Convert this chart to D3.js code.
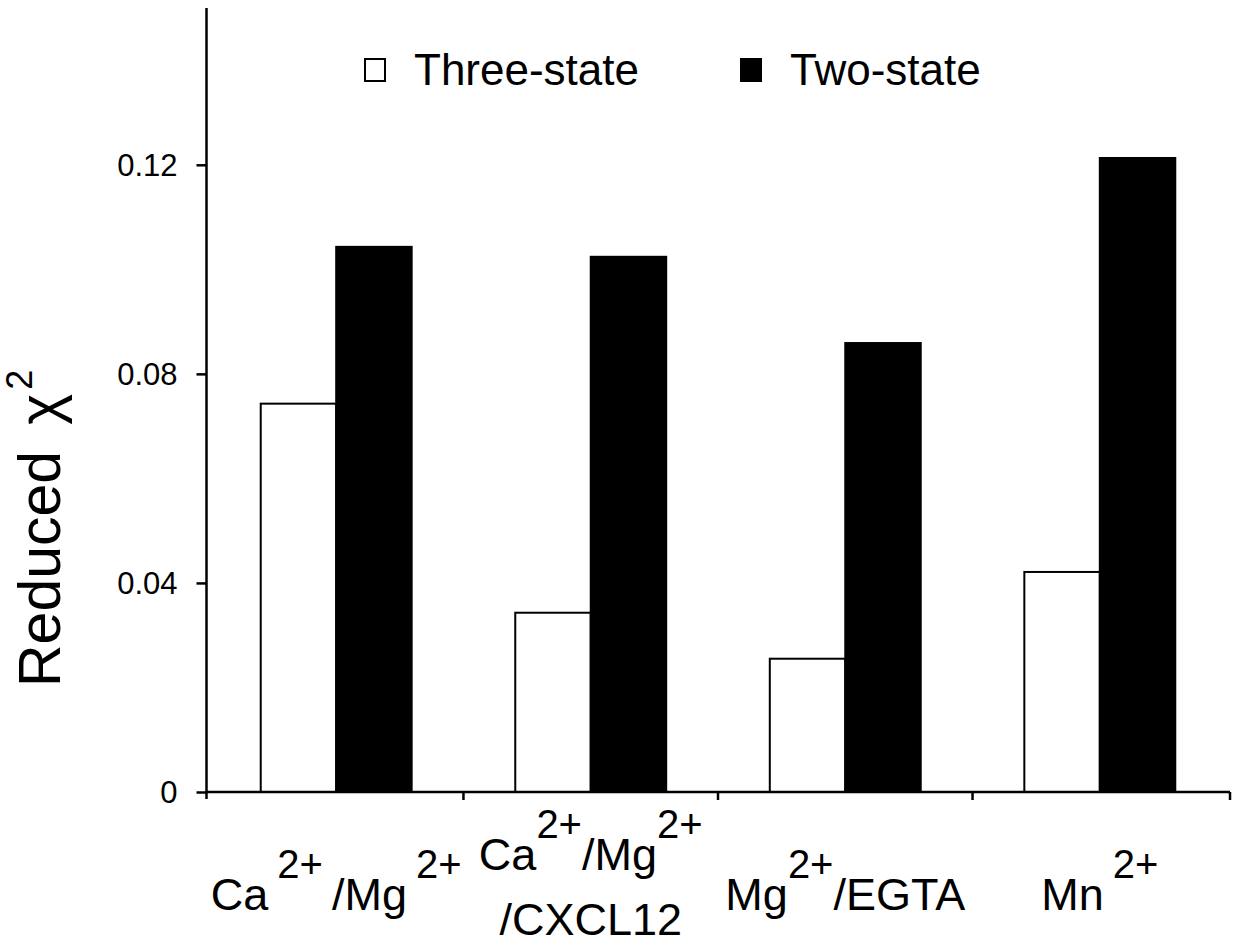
<!DOCTYPE html>
<html>
<head>
<meta charset="utf-8">
<script src="https://cdn.jsdelivr.net/npm/d3@7"></script>
<style>
  body { margin: 0; background: #fff; }
  text { font-family: Arial, "Liberation Sans", sans-serif; fill: #000; white-space: pre; }
</style>
</head>
<body>
<div class="main"></div>
<script>
// categories and series values
const categories = ["Ca/Mg", "Ca/Mg/CXCL12", "Mg/EGTA", "Mn"]
const categoryLines = [["Ca\u20092+\u2009/Mg\u20092+"], ["Ca2+/Mg2+", "/CXCL12"], ["Mg2+/EGTA"], ["Mn\u20092+"]]
const seriesNames = ["Three-state", "Two-state"]
const threeState = [0.0743, 0.0343, 0.0255, 0.0421]
const twoState = [0.1043, 0.1024, 0.0859, 0.1213]
const yTicks = [0, 0.04, 0.08, 0.12]
const yTickLabels = ["0", "0.04", "0.08", "0.12"]

const width = 1237
const height = 947
const margin = ({top: 6, right: 7, bottom: 156, left: 206})

const svg = d3.select(".main").append("svg")
    .attr("width", width)
    .attr("height", height)

const xScale = d3.scaleBand()
    .domain(categories)
    .range([margin.left, width - margin.right])
    .paddingInner(0.407)
    .paddingOuter(0.215)

const xInner = d3.scaleBand()
    .domain(seriesNames)
    .range([0, xScale.bandwidth()])

const yScale = d3.scaleLinear()
    .domain([0, 0.15])
    .range([height - margin.bottom + 1, margin.top + 2])

const fills = {"Three-state": "#fff", "Two-state": "#000"}

const rows = categories.map((c, i) => ({
    category: c,
    values: [
        {series: "Three-state", value: threeState[i]},
        {series: "Two-state", value: twoState[i]}
    ]
}))

// Bars
const groups = svg.append("g")
    .selectAll("g")
    .data(rows)
    .join("g")
        .attr("transform", d => `translate(${xScale(d.category)}, 0)`)

groups.selectAll("rect")
    .data(d => d.values)
    .join("rect")
        .attr("x", d => xInner(d.series))
        .attr("y", d => yScale(d.value))
        .attr("width", xInner.bandwidth())
        .attr("height", d => yScale(0) - yScale(d.value))
        .attr("fill", d => fills[d.series])
        .attr("stroke", "#000")
        .attr("stroke-width", 2)

// Y axis
const yAxis = d3.axisLeft(yScale)
    .tickValues(yTicks)
    .tickFormat((d, i) => yTickLabels[i])
    .tickSize(10)
    .tickPadding(19)

const yG = svg.append("g")
    .attr("transform", `translate(${margin.left + 0.5}, 0)`)
    .call(yAxis)
yG.select(".domain").remove()
yG.selectAll(".tick line").attr("stroke", "#000").attr("stroke-width", 2.5)
yG.selectAll(".tick text")
    .attr("font-size", 31)
    .attr("font-family", "Arial, 'Liberation Sans', sans-serif")
    .attr("dy", "0.34em")

svg.append("line")
    .attr("x1", margin.left + 0.5).attr("x2", margin.left + 0.5)
    .attr("y1", yScale.range()[1]).attr("y2", yScale(0) + 7)
    .attr("stroke", "#000")
    .attr("stroke-width", 2.5)

// X axis line and the ticks between groups
const x0 = xScale.range()[0]
const x1 = xScale.range()[1]
svg.append("line")
    .attr("x1", x0).attr("x2", x1)
    .attr("y1", yScale(0)).attr("y2", yScale(0))
    .attr("stroke", "#000")
    .attr("stroke-width", 2.5)

const gap = xScale.step() * xScale.paddingInner()
const tickXs = categories.slice(1).map(c => xScale(c) - gap / 2).concat([x1])
svg.append("g")
    .selectAll("line")
    .data(tickXs)
    .join("line")
        .attr("x1", d => d).attr("x2", d => d)
        .attr("y1", yScale(0)).attr("y2", yScale(0) + 8)
        .attr("stroke", "#000")
        .attr("stroke-width", 2.5)

// Category labels with superscripts
function addSupText(sel, str, mainSize, supSize, rise) {
    const parts = str.split(/(2\+)/).filter(p => p !== "")
    parts.forEach((p, i) => {
        if (p === "2+") {
            sel.append("tspan")
                .attr("font-size", supSize)
                .attr("dy", -rise)
                .text(p)
        } else {
            const t = sel.append("tspan")
                .attr("font-size", mainSize)
                .text(p)
            if (i > 0 && parts[i - 1] === "2+") t.attr("dy", rise)
        }
    })
}

const lineBaselines = {1: [910], 2: [870, 935]}
rows.forEach((d, i) => {
    const lines = categoryLines[i]
    lines.forEach((line, j) => {
        const t = svg.append("text")
            .attr("x", xScale(d.category) + xScale.bandwidth() / 2)
            .attr("y", lineBaselines[lines.length][j])
            .attr("text-anchor", "middle")
        addSupText(t, line, 45, 40, 32)
    })
})

// Y axis title
const yTitle = svg.append("text")
    .attr("transform", "translate(60, 687) rotate(-90)")
    .attr("font-size", 59)
yTitle.append("tspan").text("Reduced")
yTitle.append("tspan").attr("dx", 26).text("χ")
yTitle.append("tspan").attr("font-size", 36).attr("dx", 4).attr("dy", -28).text("2")

// Legend
const legend = svg.append("g")
const legendXs = [365, 741]
seriesNames.forEach((s, i) => {
    legend.append("rect")
        .attr("x", legendXs[i])
        .attr("y", 59)
        .attr("width", 20)
        .attr("height", 22)
        .attr("fill", fills[s])
        .attr("stroke", "#000")
        .attr("stroke-width", 2)
    legend.append("text")
        .attr("x", legendXs[i] + 49)
        .attr("y", 85)
        .attr("font-size", 44)
        .text(s)
})
</script>
</body>
</html>
